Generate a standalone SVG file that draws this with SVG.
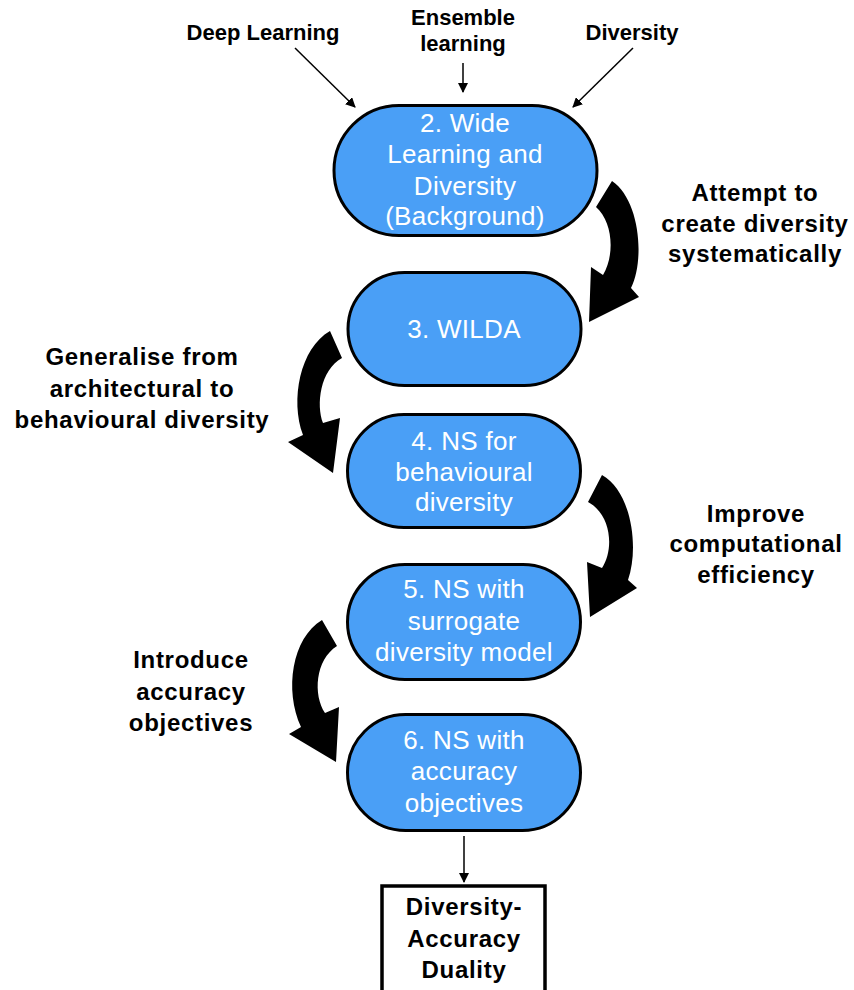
<svg xmlns="http://www.w3.org/2000/svg" width="854" height="990" viewBox="0 0 854 990">
<defs>
<style>
.node{fill:#4A9FF6;stroke:#000;stroke-width:3}
.nt{font-family:"Liberation Sans",Arial,Helvetica,sans-serif;font-size:26px;fill:#fff;text-anchor:middle;letter-spacing:0.3px}
.lbl{font-family:"Liberation Sans",Arial,Helvetica,sans-serif;font-size:24px;font-weight:bold;fill:#000;text-anchor:middle;letter-spacing:0.7px}
.top{font-family:"Liberation Sans",Arial,Helvetica,sans-serif;font-size:22px;font-weight:bold;fill:#000;text-anchor:middle}
.ln{stroke:#000;stroke-width:1.5;fill:none;marker-end:url(#ah)}
.big{fill:#000;stroke:none}
</style>
<marker id="ah" markerWidth="10" markerHeight="10" refX="9" refY="5" orient="auto" markerUnits="userSpaceOnUse">
<path d="M0,0 L10,5 L0,10 Z" fill="#000"/>
</marker>
</defs>
<rect width="854" height="990" fill="#fff"/>

<g id="connectors">
<line class="ln" x1="295" y1="48" x2="355" y2="107"/>
<line class="ln" x1="463" y1="63" x2="463" y2="92"/>
<line class="ln" x1="633" y1="48" x2="573" y2="107"/>
<line class="ln" x1="464" y1="836" x2="464" y2="882"/>
<path class="big" d="M612,181 C640,200 645,260 631,288 L639,297 L589,322 L591,267 L603,275 C615,255 613,222 596,207 Z"/>
<path class="big" d="M330,331 C300,348 290,400 303,435 L288,442 L333,473 L340,418 L323,423 C316,405 320,370 342,358 Z"/>
<path class="big" d="M602,475 C630,490 640,545 628,580 L637,588 L590,617 L587,562 L602,568 C614,550 612,515 588,502 Z"/>
<path class="big" d="M322,620 C292,638 284,690 301,727 L289,734 L336,762 L339,707 L325,713 C313,695 315,660 337,646 Z"/>
</g>

<g id="label-deep"><text class="top" x="263" y="40">Deep Learning</text></g>
<g id="label-ensemble"><text class="top" x="463" y="25">Ensemble</text><text class="top" x="463" y="51">learning</text></g>
<g id="label-diversity"><text class="top" x="632" y="40">Diversity</text></g>

<g id="node2">
<rect class="node" x="334" y="105.5" width="263" height="130" rx="65"/>
<text class="nt" x="465" y="132">2. Wide</text>
<text class="nt" x="465" y="163">Learning and</text>
<text class="nt" x="465" y="195">Diversity</text>
<text class="nt" x="465" y="225">(Background)</text>
</g>

<g id="node3">
<rect class="node" x="348" y="272.5" width="233" height="113" rx="56.5"/>
<text class="nt" x="464" y="338">3. WILDA</text>
</g>

<g id="node4">
<rect class="node" x="347.5" y="414.5" width="233" height="113" rx="56.5"/>
<text class="nt" x="464" y="450">4. NS for</text>
<text class="nt" x="464" y="481">behavioural</text>
<text class="nt" x="464" y="511">diversity</text>
</g>

<g id="node5">
<rect class="node" x="347.5" y="564.5" width="233" height="115" rx="57.5"/>
<text class="nt" x="464" y="598">5. NS with</text>
<text class="nt" x="464" y="630">surrogate</text>
<text class="nt" x="464" y="661">diversity model</text>
</g>

<g id="node6">
<rect class="node" x="347.5" y="714.5" width="233" height="116" rx="58"/>
<text class="nt" x="464" y="749">6. NS with</text>
<text class="nt" x="464" y="780">accuracy</text>
<text class="nt" x="464" y="812">objectives</text>
</g>

<g id="node-duality">
<rect x="382" y="886" width="163" height="120" fill="#fff" stroke="#000" stroke-width="3.5"/>
<text class="lbl" x="464" y="915">Diversity-</text>
<text class="lbl" x="464" y="947">Accuracy</text>
<text class="lbl" x="464" y="978">Duality</text>
</g>

<g id="label-attempt">
<text class="lbl" x="755" y="201">Attempt to</text>
<text class="lbl" x="755" y="232">create diversity</text>
<text class="lbl" x="755" y="262">systematically</text>
</g>
<g id="label-generalise">
<text class="lbl" x="142" y="365">Generalise from</text>
<text class="lbl" x="142" y="397">architectural to</text>
<text class="lbl" x="142" y="428">behavioural diversity</text>
</g>
<g id="label-improve">
<text class="lbl" x="756" y="522">Improve</text>
<text class="lbl" x="756" y="552">computational</text>
<text class="lbl" x="756" y="583">efficiency</text>
</g>
<g id="label-introduce">
<text class="lbl" x="191" y="668">Introduce</text>
<text class="lbl" x="191" y="700">accuracy</text>
<text class="lbl" x="191" y="731">objectives</text>
</g>
</svg>
